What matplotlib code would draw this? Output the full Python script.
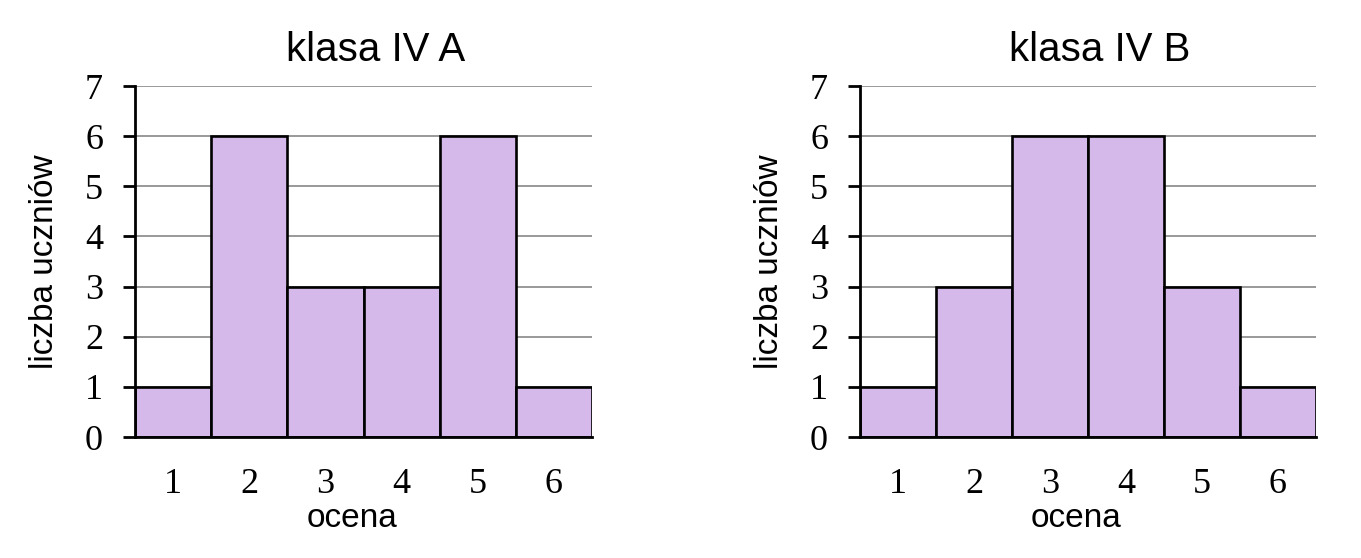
import matplotlib.pyplot as plt

grades = [1, 2, 3, 4, 5, 6]
class_a = [1, 6, 3, 3, 6, 1]
class_b = [1, 3, 6, 6, 3, 1]
titles = ['klasa IV A', 'klasa IV B']

bar_color = '#d4b9ea'
sans = ['Liberation Sans', 'DejaVu Sans']
serif = ['Liberation Serif', 'DejaVu Serif']

fig = plt.figure(figsize=(13.61, 5.58), dpi=100)
ax_a = fig.add_axes([0.0992, 0.2168, 0.3358, 0.629])
ax_b = fig.add_axes([0.6319, 0.2168, 0.3350, 0.629])

for ax, counts, title in zip([ax_a, ax_b], [class_a, class_b], titles):
    ax.bar(grades, counts, width=1.0, color=bar_color,
           edgecolor='black', linewidth=1.9, zorder=3)
    ax.set_xlim(0.5, 6.5)
    ax.set_ylim(0, 7)
    ax.set_yticks(range(0, 8))
    ax.set_xticks(grades)
    ax.yaxis.grid(True, color='#999999', linewidth=1.4, zorder=0)
    ax.set_axisbelow(True)
    for side in ['top', 'right']:
        ax.spines[side].set_visible(False)
    ax.spines['left'].set_linewidth(2)
    ax.spines['bottom'].set_linewidth(2)
    ax.spines['left'].set_zorder(4)
    ax.spines['bottom'].set_zorder(4)
    ax.tick_params(axis='y', length=9, width=2, pad=14, labelsize=26)
    ax.tick_params(axis='x', length=0, pad=22, labelsize=26)
    for lbl in ax.get_xticklabels() + ax.get_yticklabels():
        lbl.set_family(serif)
    ax.set_title(title, fontsize=29, family=sans, pad=18, x=0.526)
    ax.set_xlabel('ocena', fontsize=24, family=sans, labelpad=2, x=0.474)
    ax.set_ylabel('liczba uczniów', fontsize=24, family=sans, labelpad=18)

fig.savefig('out.png', dpi=100)
